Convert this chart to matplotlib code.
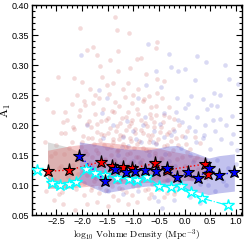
import matplotlib
matplotlib.use("Agg")
import matplotlib.pyplot as plt
from matplotlib.ticker import MultipleLocator

plt.rcParams['mathtext.fontset'] = 'cm'

# binned medians (stars)
cyan_x = [-2.88, -2.58, -2.42, -2.26, -2.11, -1.92, -1.74, -1.55, -1.32, -1.09, -0.93, -0.74, -0.50, -0.27, -0.06, 0.12, 0.34, 0.85]
cyan_y = [0.125, 0.104, 0.100, 0.101, 0.105, 0.126, 0.120, 0.117, 0.112, 0.110, 0.109, 0.114, 0.099, 0.096, 0.099, 0.089, 0.078, 0.066]
red_x = [-2.67, -2.25, -1.62, -1.42, -1.19, -1.03, -0.57, -0.34, 0.39, 0.45]
red_y = [0.123, 0.125, 0.139, 0.132, 0.130, 0.128, 0.136, 0.125, 0.135, 0.118]
blue_x = [-2.05, -1.55, -1.35, -1.14, -0.97, -0.77, -0.55, -0.34, -0.14, 0.07, 0.26, 0.47, 0.67, 0.97]
blue_y = [0.149, 0.107, 0.127, 0.121, 0.124, 0.125, 0.124, 0.128, 0.113, 0.121, 0.111, 0.128, 0.116, 0.122]

# percentile bands
gray_x = [-2.67, -2.25, -2.05]
gray_lo = [0.095, 0.095, 0.100]
gray_hi = [0.172, 0.163, 0.155]
red_lo = [0.095, 0.095, 0.100, 0.102, 0.103, 0.103, 0.105, 0.105, 0.110, 0.108]
red_hi = [0.158, 0.165, 0.172, 0.170, 0.168, 0.165, 0.163, 0.158, 0.146, 0.143]
blue_lo = [0.106, 0.087, 0.090, 0.093, 0.096, 0.098, 0.099, 0.097, 0.095, 0.092, 0.088, 0.084, 0.087, 0.090]
blue_hi = [0.172, 0.165, 0.162, 0.160, 0.160, 0.158, 0.161, 0.165, 0.166, 0.158, 0.152, 0.145, 0.149, 0.152]

# individual galaxies
pts_red_x = [-2.03, -1.35, -1.32, -1.90, -1.79, -1.71, -2.16, -2.47, -2.68, -2.57, -1.64, -1.45, -1.29, -2.00, -1.51,
             -1.08, -0.53, -0.56, -0.85, -0.93, -1.06, -0.75, -0.53, -0.40, -0.69, -0.53, -0.43,
             -2.33, -2.20, -2.10, -1.95, -1.85, -1.75, -1.60, -1.40, -1.30, -1.20, -1.10, -1.00, -0.90, -0.80, -0.65,
             -0.30, -0.20, -0.10, 0.05, 0.20, 0.30,
             -2.30, -2.05, -1.90, -1.75, -1.62, -1.50, -1.38, -1.25, -1.15, -1.02, -0.90, -0.78, -0.66, -0.55, -0.42, -0.30,
             -2.40, -2.15, -1.98, -1.82, -1.70, -1.57, -1.45, -1.33, -1.20, -1.08, -0.97, -0.85, -0.72, -0.60, -0.48, -0.35, -0.22, -0.05,
             -2.50, -2.20, -2.02, -1.88, -1.76, -1.64, -1.52, -1.40, -1.28, -1.15, -1.04, -0.92, -0.80, -0.68, -0.55, -0.40, -0.27, -0.12, 0.10,
             -2.60, -2.35, -2.10, -1.94, -1.80, -1.68, -1.55, -1.43, -1.30, -1.18, -1.06, -0.95, -0.83, -0.70, -0.58, -0.45, -0.30, -0.15, 0.05, 0.25,
             -2.45, -2.18, -1.98, -1.84, -1.72, -1.60, -1.47, -1.35, -1.22, -1.10, -0.98, -0.86, -0.74, -0.62, -0.50, -0.37, -0.20, 0.00,
             -2.55, -2.28, -2.05, -1.90, -1.77, -1.63, -1.50, -1.38, -1.25, -1.13, -1.00, -0.88, -0.76, -0.64, -0.52, -0.40, -0.25, -0.08, 0.15,
             -2.38, -2.12, -1.95, -1.80, -1.66, -1.53, -1.40, -1.27, -1.15, -1.03, -0.90, -0.78, -0.65, -0.50, -0.35, -0.18,
             -2.55, -2.36, -2.13, -1.90, -0.93, -2.70, -2.45, -1.70, -1.50, -1.30, -1.10, -0.70, -0.40, -0.20, 0.10,
             -2.18, -2.12, -2.07, -2.03, -1.99, -1.96, -1.93, -1.91, -1.87, -1.86, -1.83, -1.81, -1.78, -1.76, -1.73, -1.71,
             -1.69, -1.67, -1.65, -1.63, -1.61, -1.59, -1.57, -1.55, -1.53, -1.51, -1.49, -1.47, -1.46, -1.44, -1.42, -1.41,
             -1.39, -1.37, -1.36, -1.34, -1.32, -1.31, -1.29, -1.27, -1.26, -1.24, -1.22, -1.21, -1.19, -1.17, -1.16, -1.14,
             -1.12, -1.11, -1.09, -1.07, -1.05, -1.04, -1.02, -1.00, -0.98, -0.96, -0.95, -0.93, -0.91, -0.89, -0.87, -0.85,
             -0.83, -0.81, -0.79, -0.77, -0.75, -0.73, -0.71, -0.69, -0.67, -0.65, -0.63, -0.61, -0.59, -0.57, -0.55, -0.53,
             -0.51, -0.48, -0.46, -0.44, -0.41, -0.38, -0.35, -0.31, -0.27, -0.22, -0.16, -0.11, -0.04, 0.03, 0.09, 0.18,
             0.27, -2.26, -2.33, -2.41, -2.52, -2.62, -2.72, -2.36, -2.22]
pts_red_y = [0.362, 0.381, 0.358, 0.325, 0.330, 0.317, 0.278, 0.280, 0.243, 0.222, 0.298, 0.308, 0.323, 0.272, 0.267,
             0.353, 0.339, 0.328, 0.312, 0.310, 0.295, 0.285, 0.276, 0.273, 0.248, 0.254, 0.245,
             0.222, 0.235, 0.250, 0.240, 0.260, 0.250, 0.280, 0.270, 0.290, 0.260, 0.270, 0.250, 0.260, 0.240, 0.230,
             0.230, 0.210, 0.200, 0.190, 0.180, 0.170,
             0.208, 0.215, 0.202, 0.219, 0.206, 0.212, 0.221, 0.204, 0.214, 0.209, 0.218, 0.203, 0.211, 0.216, 0.205, 0.213,
             0.186, 0.193, 0.181, 0.197, 0.188, 0.184, 0.195, 0.190, 0.182, 0.198, 0.187, 0.192, 0.183, 0.196, 0.189, 0.185, 0.194, 0.181,
             0.166, 0.172, 0.163, 0.178, 0.169, 0.175, 0.161, 0.171, 0.177, 0.164, 0.173, 0.168, 0.162, 0.176, 0.170, 0.165, 0.174, 0.167, 0.160,
             0.148, 0.152, 0.143, 0.157, 0.146, 0.154, 0.141, 0.150, 0.158, 0.144, 0.153, 0.147, 0.142, 0.156, 0.149, 0.145, 0.151, 0.143, 0.155, 0.147,
             0.128, 0.134, 0.122, 0.137, 0.126, 0.131, 0.121, 0.139, 0.127, 0.133, 0.124, 0.136, 0.129, 0.123, 0.135, 0.130, 0.125, 0.132,
             0.108, 0.114, 0.103, 0.117, 0.106, 0.112, 0.101, 0.119, 0.109, 0.115, 0.104, 0.111, 0.118, 0.102, 0.113, 0.107, 0.116, 0.105, 0.110,
             0.088, 0.094, 0.083, 0.097, 0.086, 0.092, 0.081, 0.095, 0.089, 0.084, 0.098, 0.091, 0.085, 0.093, 0.087, 0.090,
             0.075, 0.068, 0.058, 0.068, 0.071, 0.090, 0.085, 0.072, 0.065, 0.075, 0.068, 0.078, 0.080, 0.085, 0.090,
             0.196, 0.142, 0.118, 0.225, 0.171, 0.104, 0.233, 0.151, 0.128, 0.207, 0.092, 0.178, 0.236, 0.113, 0.159, 0.201,
             0.134, 0.245, 0.097, 0.185, 0.121, 0.227, 0.166, 0.144, 0.209, 0.108, 0.187, 0.252, 0.131, 0.163, 0.224, 0.098,
             0.176, 0.141, 0.239, 0.118, 0.199, 0.157, 0.105, 0.231, 0.183, 0.137, 0.211, 0.094, 0.169, 0.247, 0.126, 0.192,
             0.151, 0.222, 0.112, 0.178, 0.138, 0.203, 0.236, 0.099, 0.161, 0.193, 0.122, 0.227, 0.146, 0.174, 0.107, 0.208,
             0.133, 0.186, 0.243, 0.117, 0.158, 0.199, 0.094, 0.171, 0.219, 0.139, 0.184, 0.111, 0.205, 0.153, 0.232, 0.125,
             0.176, 0.102, 0.196, 0.144, 0.216, 0.119, 0.167, 0.188, 0.131, 0.159, 0.178, 0.121, 0.147, 0.169, 0.112, 0.141,
             0.126, 0.161, 0.187, 0.131, 0.153, 0.118, 0.172, 0.205, 0.118]
pts_blue_x = [-2.01, -1.66, -1.51, -0.71, -0.27, -0.12, 0.01, 0.87, 1.05, 0.58, 0.12, -0.45, -0.75, 0.06, 0.51, 0.64, 0.44,
              0.25, 0.00, -0.17, -0.40,
              -1.40, -1.20, -1.00, -0.80, -0.60, -0.40, -0.20, 0.00, 0.20, 0.40, 0.60, 0.80,
              -1.30, -1.00, -0.70, -0.30, 0.10, 0.50, 0.90,
              -1.50, -1.20, -0.90, -0.60, -0.51, -0.44, -0.20, 0.10, 0.30, 0.60, 0.80,
              -1.80, -1.90, -1.60, -1.10, -0.85, -0.55, -0.05, 0.35, 0.70, 0.95,
              -1.25, -0.95, -0.65, -0.35, -0.10, 0.15, 0.45, 0.75, 1.00,
              -1.22, -1.12, -1.03, -0.94, -0.86, -0.78, -0.69, -0.62, -0.54, -0.47, -0.39, -0.33, -0.26, -0.19,
              -0.13, -0.07, 0.02, 0.08, 0.16, 0.22, 0.31, 0.38, 0.46, 0.55, 0.63, 0.72, 0.84, 0.92, 1.02,
              -1.58, -1.72, -1.45, -0.15, 0.35, 0.70, -0.90, 0.20, -0.55, 0.42, 0.78, 0.25, -0.30]
pts_blue_y = [0.316, 0.259, 0.245, 0.335, 0.296, 0.290, 0.294, 0.276, 0.269, 0.254, 0.249, 0.263, 0.266, 0.235, 0.233, 0.232, 0.226,
              0.213, 0.229, 0.221, 0.220,
              0.200, 0.180, 0.190, 0.200, 0.190, 0.180, 0.190, 0.180, 0.190, 0.200, 0.190, 0.200,
              0.150, 0.140, 0.150, 0.140, 0.150, 0.160, 0.170,
              0.090, 0.085, 0.090, 0.080, 0.073, 0.062, 0.075, 0.080, 0.070, 0.090, 0.100,
              0.130, 0.200, 0.220, 0.165, 0.172, 0.168, 0.205, 0.178, 0.210, 0.185,
              0.110, 0.105, 0.118, 0.108, 0.102, 0.112, 0.100, 0.106, 0.135,
              0.163, 0.207, 0.118, 0.176, 0.139, 0.214, 0.127, 0.171, 0.098, 0.201, 0.151, 0.108, 0.183, 0.132,
              0.209, 0.161, 0.121, 0.196, 0.138, 0.171, 0.102, 0.184, 0.131, 0.208, 0.142, 0.176, 0.128, 0.215, 0.158,
              0.178, 0.112, 0.131, 0.245, 0.244, 0.250, 0.245, 0.275, 0.290, 0.305, 0.300, 0.315, 0.318]

fig = plt.figure(figsize=(2.49, 2.43), dpi=100)
ax = fig.add_axes([0.129, 0.115, 0.843, 0.864])

ax.scatter(pts_red_x, pts_red_y, s=11, color='#c84848', alpha=0.2, lw=0, zorder=1)
ax.scatter(pts_blue_x, pts_blue_y, s=11, color='#4848c8', alpha=0.2, lw=0, zorder=1)

ax.fill_between(gray_x, gray_lo, gray_hi, color='#b0b0b0', alpha=0.45, lw=0, zorder=2)
ax.fill_between(red_x, red_lo, red_hi, color='#e06060', alpha=0.35, lw=0, zorder=2)
ax.fill_between(blue_x, blue_lo, blue_hi, color='#5050d0', alpha=0.35, lw=0, zorder=2)

ax.plot(cyan_x, cyan_y, '-.', color='cyan', lw=0.8, zorder=3)
ax.plot(cyan_x, cyan_y, '*', ms=9, mfc='white', mec='cyan', mew=1.0, ls='none', zorder=4)
ax.plot(red_x, red_y, ':', color='red', lw=1.0, zorder=3)
ax.plot(red_x, red_y, '*', ms=9.5, mfc='red', mec='black', mew=0.8, ls='none', zorder=5)
ax.plot(blue_x, blue_y, ':', color='blue', lw=1.0, zorder=3)
ax.plot(blue_x, blue_y, '*', ms=9.5, mfc='blue', mec='black', mew=0.8, ls='none', zorder=6)

ax.set_xlim(-2.97, 1.12)
ax.set_ylim(0.05, 0.40)
ax.xaxis.set_major_locator(MultipleLocator(0.5))
ax.xaxis.set_minor_locator(MultipleLocator(0.1))
ax.yaxis.set_major_locator(MultipleLocator(0.05))
ax.yaxis.set_minor_locator(MultipleLocator(0.01))
ax.tick_params(which='both', direction='in', top=True, right=True, width=0.8, pad=2)
ax.tick_params(axis='x', which='both', pad=1.5)
ax.tick_params(which='major', length=4)
ax.tick_params(which='minor', length=2)
ax.set_xticks([-2.5, -2.0, -1.5, -1.0, -0.5, 0.0, 0.5, 1.0])
ax.set_xticklabels(['\u22122.5', '\u22122.0', '\u22121.5', '\u22121.0', '\u22120.5', '0.0', '0.5', '1.0'])
for lab in ax.get_xticklabels() + ax.get_yticklabels():
    lab.set_family('Liberation Sans')
    lab.set_fontsize(6.5)
for s in ax.spines.values():
    s.set_linewidth(1.0)

ax.set_xlabel(r'$\log_{10}\,\mathrm{Volume\ Density\ (Mpc^{-3})}$', fontsize=6.8)
ax.xaxis.set_label_coords(0.5, -0.058)
ax.set_ylabel(r'$\mathrm{A}_1$', fontsize=8.5)
ax.yaxis.set_label_coords(-0.093, 0.5)

fig.savefig('out.png', dpi=100)
